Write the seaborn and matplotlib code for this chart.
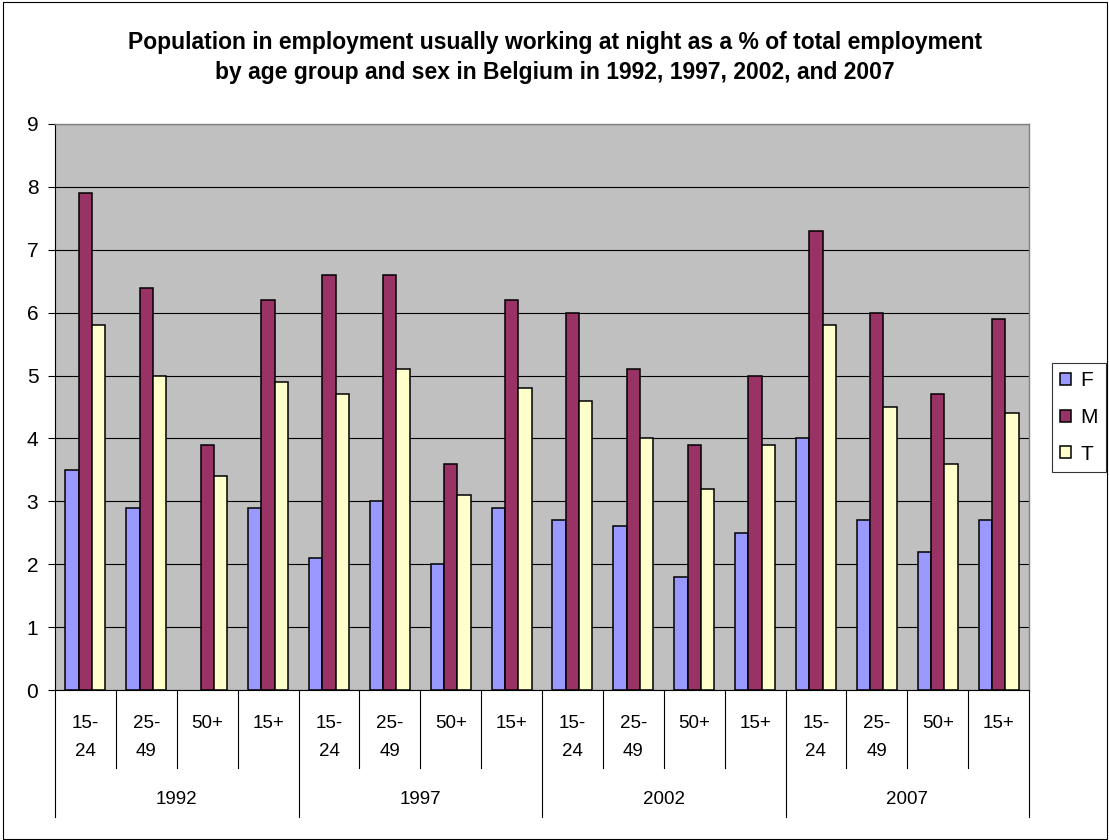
import numpy as np
import pandas as pd
import matplotlib
matplotlib.use("Agg")
import matplotlib.pyplot as plt
import matplotlib.transforms as mtransforms
from matplotlib.lines import Line2D
from matplotlib.patches import Rectangle
import seaborn as sns

# Night work as a share of total employment, Belgium
years = ["1992", "1997", "2002", "2007"]
age_groups = ["15-24", "25-49", "50+", "15+"]
sexes = ["F", "M", "T"]

female = [3.5, 2.9, np.nan, 2.9, 2.1, 3.0, 2.0, 2.9, 2.7, 2.6, 1.8, 2.5, 4.0, 2.7, 2.2, 2.7]
male = [7.9, 6.4, 3.9, 6.2, 6.6, 6.6, 3.6, 6.2, 6.0, 5.1, 3.9, 5.0, 7.3, 6.0, 4.7, 5.9]
total = [5.8, 5.0, 3.4, 4.9, 4.7, 5.1, 3.1, 4.8, 4.6, 4.0, 3.2, 3.9, 5.8, 4.5, 3.6, 4.4]

colors = {"F": "#9999FF", "M": "#993366", "T": "#FFFFCC"}

title_lines = [
    "Population in employment usually working at night as a % of total employment",
    "by age group and sex in Belgium in 1992, 1997, 2002, and 2007",
]

plt.rcParams["font.family"] = ["Liberation Sans", "DejaVu Sans"]

slots = [f"{y} {a}" for y in years for a in age_groups]
rows = []
for sex, vals in zip(sexes, [female, male, total]):
    for slot, v in zip(slots, vals):
        rows.append({"slot": slot, "sex": sex, "value": v})
df = pd.DataFrame(rows)

W, H = 1109, 840
fig = plt.figure(figsize=(W / 100, H / 100), dpi=100)
ax = fig.add_axes([55 / W, 1 - 690 / H, (1029 - 55) / W, (690 - 124) / H])
ax.set_facecolor("#C0C0C0")

sns.barplot(
    data=df, x="slot", y="value", hue="sex",
    order=slots, hue_order=sexes, palette=colors,
    width=0.656, saturation=1, errorbar=None,
    edgecolor="black", linewidth=1.1, legend=False, ax=ax,
)

ax.set_xlim(-0.5, len(slots) - 0.5)
ax.set_ylim(0, 9)
ax.set_yticks(range(10))
ax.set_xlabel("")
ax.set_ylabel("")
ax.tick_params(axis="x", length=0, labelbottom=False)
ax.tick_params(axis="y", length=5, width=0.8, pad=7, labelsize=15, colors="black")
ax.yaxis.grid(True, color="black", linewidth=0.8)
ax.set_axisbelow(True)

for side in ("top", "right"):
    ax.spines[side].set_color("#808080")
    ax.spines[side].set_linewidth(1.0)
for side in ("left", "bottom"):
    ax.spines[side].set_color("black")
    ax.spines[side].set_linewidth(0.8)

# Two-level category axis: age groups within survey years
trans = mtransforms.blended_transform_factory(ax.transData, fig.transFigure)
y_axis = 1 - 690 / H
for k in range(len(slots) + 1):
    y_end = 1 - (817 if k % 4 == 0 else 768) / H
    fig.add_artist(Line2D([k - 0.5, k - 0.5], [y_axis, y_end], transform=trans,
                          color="black", linewidth=0.8, clip_on=False))

for i in range(len(slots)):
    age = age_groups[i % 4]
    if "-" in age:
        head, tail = age.split("-")
        parts = [head + "-", tail]
    else:
        parts = [age]
    for j, part in enumerate(parts):
        fig.text(i, 1 - (723 + 29 * j) / H, part, transform=trans,
                 ha="center", va="center", fontsize=13.5)

for j, year in enumerate(years):
    fig.text(4 * j + 1.5, 1 - 800 / H, year, transform=trans,
             ha="center", va="center", fontsize=13.5)

# Title
for j, line in enumerate(title_lines):
    fig.text(555 / W, 1 - (42 + 30 * j) / H, line, ha="center", va="center",
             fontsize=16.5, fontweight="bold")

# Legend
handles = [Rectangle((0, 0), 1, 1, facecolor=colors[s], edgecolor="black", linewidth=1.1)
           for s in sexes]
leg = fig.legend(handles, sexes, loc="upper left",
                 bbox_to_anchor=(1052 / W, 1 - 363 / H), bbox_transform=fig.transFigure,
                 frameon=True, fancybox=False, edgecolor="black", fontsize=15,
                 handlelength=0.5, handleheight=0.5, handletextpad=0.45,
                 labelspacing=0.85, borderpad=0.4, borderaxespad=0)
leg.get_frame().set_linewidth(0.8)

# Chart border
fig.add_artist(Rectangle((2.5 / W, 1.5 / H), (1106.5 - 2.5) / W, (838 - 1.5) / H,
                         transform=fig.transFigure, fill=False,
                         edgecolor="black", linewidth=0.8))

fig.savefig("out.png", dpi=100)
